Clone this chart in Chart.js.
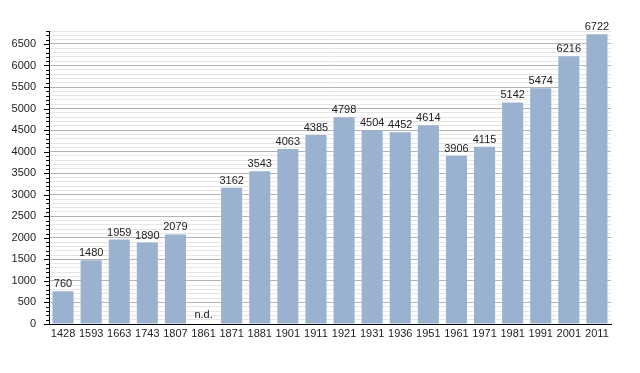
<!DOCTYPE html>
<html>
<head>
<meta charset="utf-8">
<script src="https://cdn.jsdelivr.net/npm/chart.js@4/dist/chart.umd.min.js"></script>
<style>
    html, body { margin: 0; padding: 0; background: #fff; }
    #chart { display: block; }
</style>
</head>
<body>
<canvas id="chart" width="640" height="373"></canvas>
<script>
// Data
const years = ['1428', '1593', '1663', '1743', '1807', '1861', '1871', '1881', '1901', '1911',
    '1921', '1931', '1936', '1951', '1961', '1971', '1981', '1991', '2001', '2011'];
const population = [760, 1480, 1959, 1890, 2079, null, 3162, 3543, 4063, 4385,
    4798, 4504, 4452, 4614, 3906, 4115, 5142, 5474, 6216, 6722];
const yMax = 6800;
const yStep = 100;
const yLabelStep = 500;

const FONT = '"Liberation Sans", Arial, sans-serif';

// Value labels above bars and small ticks on the y axis
const labelsPlugin = {
    id: 'labelsPlugin',
    afterDatasetsDraw(chart) {
        const ctx = chart.ctx;
        const meta = chart.getDatasetMeta(0);
        const yScale = chart.scales.y;
        ctx.save();
        ctx.font = '11px ' + FONT;
        ctx.fillStyle = '#222';
        ctx.textAlign = 'center';
        ctx.textBaseline = 'alphabetic';
        meta.data.forEach((bar, i) => {
            const v = population[i];
            if (v === null) {
                ctx.fillText('n.d.', bar.x, yScale.getPixelForValue(0) - 6);
            } else {
                ctx.fillText(String(v), bar.x, bar.y - 4);
            }
        });

        // y axis tick marks
        ctx.strokeStyle = '#000';
        ctx.lineWidth = 1;
        const x0 = chart.chartArea.left;
        for (let v = 0; v <= yMax; v += yStep) {
            const y = Math.round(yScale.getPixelForValue(v)) + 0.5;
            const len = v % yLabelStep === 0 ? 5 : 3;
            ctx.beginPath();
            ctx.moveTo(x0 - len, y);
            ctx.lineTo(x0, y);
            ctx.stroke();
        }
        ctx.restore();
    }
};

const ctx = document.getElementById('chart').getContext('2d');
new Chart(ctx, {
    type: 'bar',
    data: {
        labels: years,
        datasets: [{
            data: population,
            backgroundColor: '#9ab2cf',
            borderWidth: 0,
            barPercentage: 1,
            categoryPercentage: 0.75
        }]
    },
    options: {
        responsive: false,
        animation: false,
        layout: { padding: { top: 31, right: 29, left: 0, bottom: 0 } },
        plugins: {
            legend: { display: false },
            tooltip: { enabled: false }
        },
        scales: {
            x: {
                grid: { display: false, drawTicks: false },
                border: { color: '#000', width: 1 },
                ticks: {
                    color: '#222',
                    font: { family: FONT, size: 11 },
                    padding: 3,
                    maxRotation: 0,
                    autoSkip: false
                },
                afterFit(scale) { scale.height = 49; }
            },
            y: {
                min: 0,
                max: yMax,
                grid: {
                    drawTicks: false,
                    color: c => (c.tick && c.tick.value % yLabelStep === 0) ? '#b4b4b4' : '#e6e6e6',
                    lineWidth: 1
                },
                border: { color: '#000', width: 1 },
                ticks: {
                    stepSize: yStep,
                    autoSkip: false,
                    color: '#222',
                    font: { family: FONT, size: 11 },
                    padding: 13,
                    callback: v => (v % yLabelStep === 0 && v <= 6500) ? v : ''
                },
                afterFit(scale) { scale.width = 49; }
            }
        }
    },
    plugins: [labelsPlugin]
});
</script>
</body>
</html>
